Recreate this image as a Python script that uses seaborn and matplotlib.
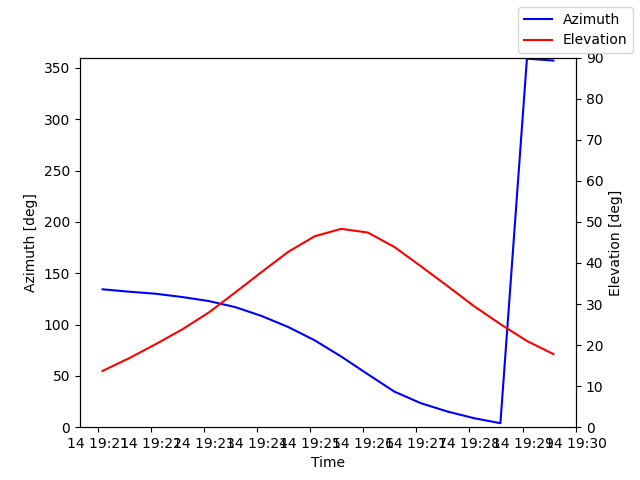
import matplotlib
matplotlib.use("Agg")
import matplotlib.pyplot as plt
import numpy as np
import pandas as pd
import seaborn as sns

# sample times, every 30 s
times = pd.date_range("2023-03-14 19:21:05", periods=18, freq="30s")

azimuth = [134.3, 132.0, 130.0, 126.8, 122.9, 117.0, 108.3, 97.6, 84.6,
           68.8, 51.6, 34.7, 23.4, 15.3, 8.8, 3.9, 359.0, 357.1]
elevation = [13.7, 16.8, 20.2, 23.8, 27.9, 32.8, 37.8, 42.7, 46.5,
             48.3, 47.4, 43.9, 39.2, 34.4, 29.5, 25.1, 21.0, 17.8]

df = pd.DataFrame({"Time": times, "Azimuth": azimuth, "Elevation": elevation})

fig, ax1 = plt.subplots(figsize=(6.4, 4.8), dpi=100)
ax2 = ax1.twinx()

sns.lineplot(data=df, x="Time", y="Azimuth", ax=ax1, color="blue", label="Azimuth")
sns.lineplot(data=df, x="Time", y="Elevation", ax=ax2, color="red", label="Elevation")

for a in (ax1, ax2):
    if a.get_legend() is not None:
        a.get_legend().remove()

ax1.set_ylim(0, 360)
ax2.set_ylim(0, 90)
ax1.set_xlabel("Time")
ax1.set_ylabel("Azimuth [deg]")
ax2.set_ylabel("Elevation [deg]")

fig.legend()
fig.savefig("out.png")
